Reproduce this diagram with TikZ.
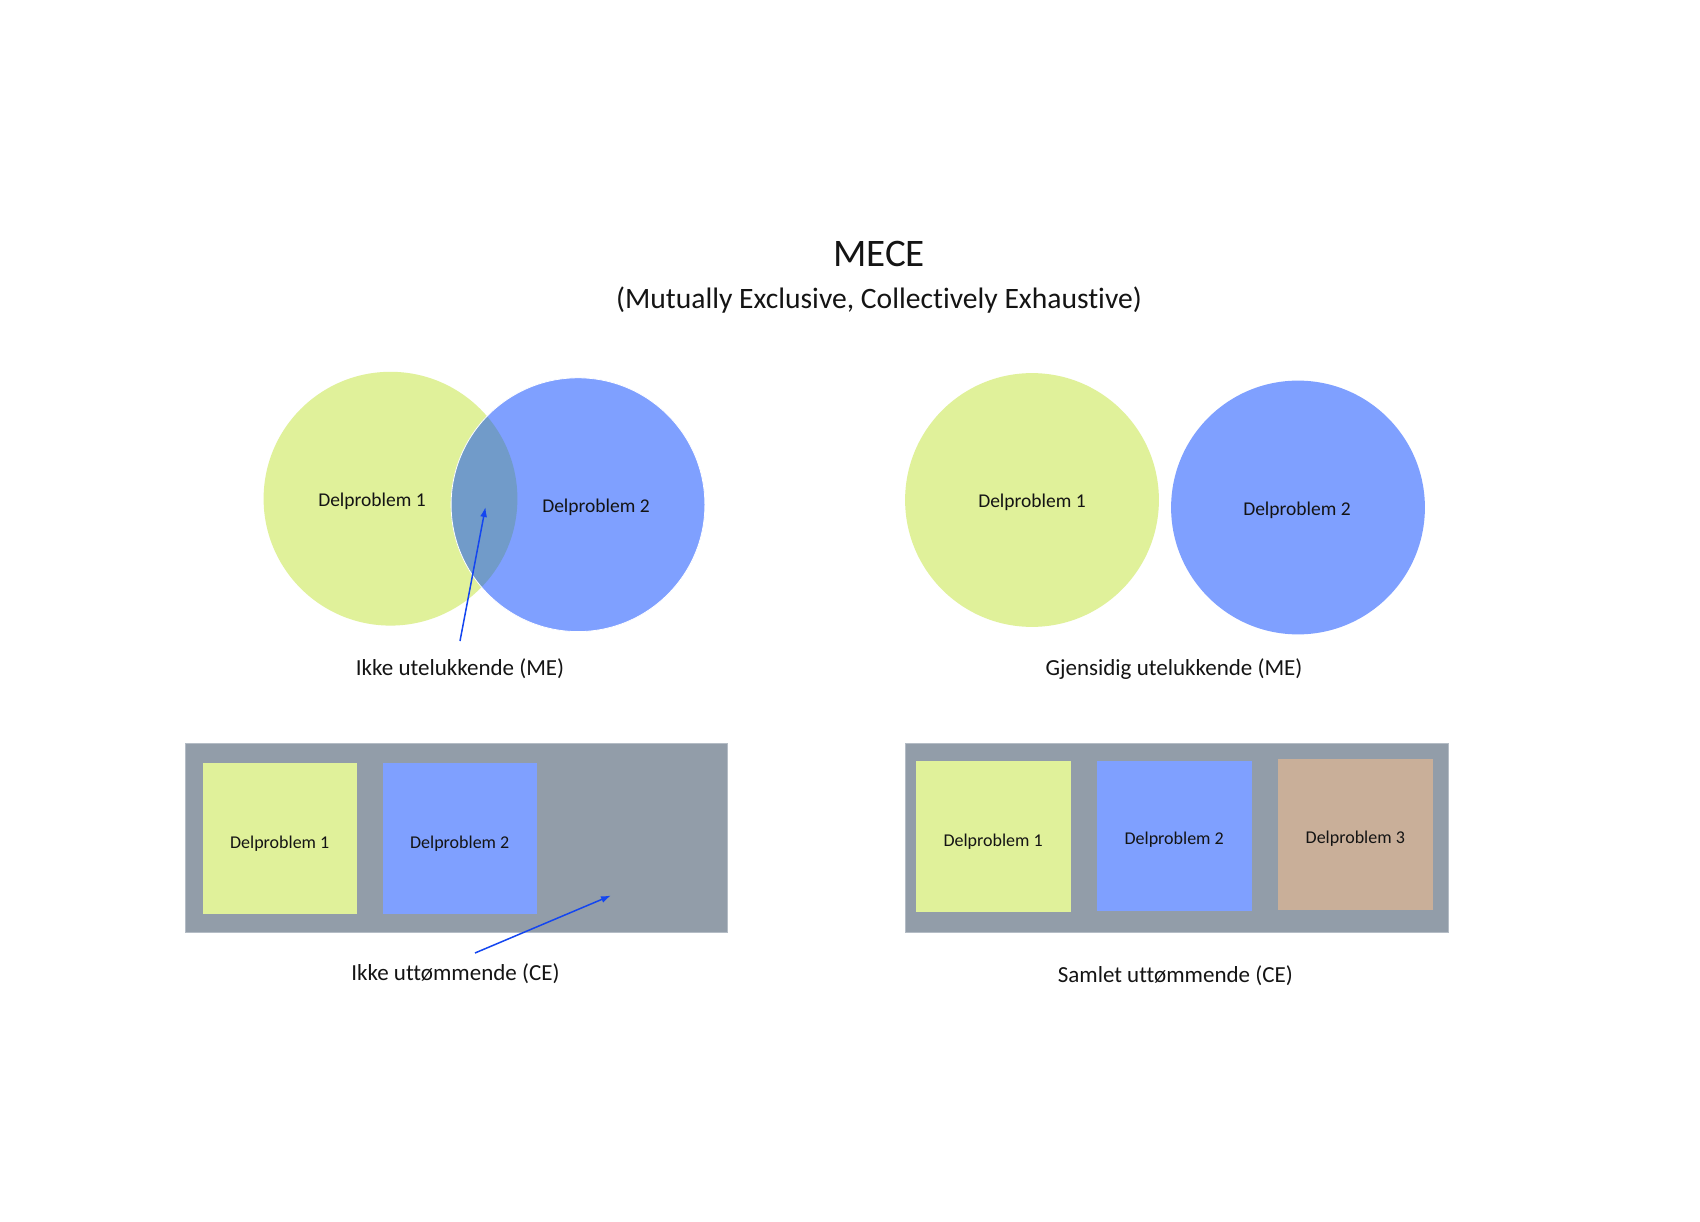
\documentclass[tikz,border=0pt]{standalone}
\usepackage{fontspec}
\setmainfont{Carlito}[Ligatures=CommonOff]
\usetikzlibrary{arrows.meta}
\definecolor{cgreen}{HTML}{E0F19A}
\definecolor{cblue}{HTML}{7FA0FF}
\definecolor{coverlap}{HTML}{719BC9}
\definecolor{cgray}{HTML}{929DA9}
\definecolor{cgrayedge}{HTML}{B4BCC5}
\definecolor{ctan}{HTML}{C9AF99}
\definecolor{ctext}{HTML}{141414}
\definecolor{carrow}{HTML}{1446F0}
\tikzset{
  venn/.style={circle, minimum size=253.8pt, inner sep=0pt, draw=none},
  boxtxt/.style={text=ctext, font=\fontsize{18}{20}\selectfont, yshift=-2pt},
  circtxt/.style={text=ctext, font=\fontsize{19.5}{22}\selectfont, yshift=-2pt},
  lbl/.style={text=ctext, font=\fontsize{23}{26}\selectfont, yshift=-2pt},
  tile/.style={draw=none, inner sep=0pt},
  pointer/.style={draw=carrow, line width=1.5pt, -{Latex[length=10pt,width=7pt]}},
}
\begin{document}
\begin{tikzpicture}[x=1pt,y=-1pt]
\useasboundingbox[fill=white] (0,0) rectangle (1700,1222);

% title
\node[text=ctext, font=\fontsize{39}{44}\selectfont] (title) at (879,254) {MECE};
\node[text=ctext, font=\fontsize{29.6}{34}\selectfont] (subtitle) at (879,300) {(Mutually Exclusive, Collectively Exhaustive)};

% left venn (overlapping)
\node[venn, fill=cgreen] (g1) at (390.5,498.7) {};
\node[venn, fill=cblue] (b1) at (578,504.7) {};
\begin{scope}
  \clip (390.5,498.7) circle (126.9);
  \fill[coverlap] (578,504.7) circle (126.9);
\end{scope}
\draw[white, line width=0.8pt] (578,504.7) circle (126.9);
\node[circtxt] (g1t) at (372,499) {Delproblem 1};
\node[circtxt] (b1t) at (596,505) {Delproblem 2};
\node[lbl] (lblA) at (460,667) {Ikke utelukkende (ME)};
\coordinate (arrA1) at (460,641);
\coordinate (arrA2) at (485.5,507);
\draw[pointer] (arrA1) -- (arrA2);

% right venn (separate)
\node[venn, fill=cgreen] (g2) at (1032,500) {};
\node[venn, fill=cblue] (b2) at (1298,507.5) {};
\node[circtxt] (g2t) at (1032,500) {Delproblem 1};
\node[circtxt] (b2t) at (1297,508) {Delproblem 2};
\node[lbl] (lblB) at (1174,667) {Gjensidig utelukkende (ME)};

% left boxes (not exhaustive)
\draw[fill=cgray, draw=cgrayedge, line width=0.8pt] (185.4,743.8) rectangle (727.5,932.4);
\node[tile, fill=cgreen, minimum width=154pt, minimum height=150.7pt] (lg) at (279.7,838.7) {};
\node[tile, fill=cblue, minimum width=154pt, minimum height=150.7pt] (lb) at (459.7,838.7) {};
\node[boxtxt] (lgt) at (279.7,841.3) {Delproblem 1};
\node[boxtxt] (lbt) at (459.7,841.3) {Delproblem 2};
\node[lbl] (lblC) at (455.4,971.5) {Ikke uttømmende (CE)};
\coordinate (arrC1) at (475,953);
\coordinate (arrC2) at (611,895.5);
\draw[pointer] (arrC1) -- (arrC2);

% right boxes (exhaustive)
\draw[fill=cgray, draw=cgrayedge, line width=0.8pt] (905.3,743.8) rectangle (1448.5,932.4);
\node[tile, fill=cgreen, minimum width=155pt, minimum height=150.7pt] (rg) at (993.6,836.4) {};
\node[tile, fill=cblue, minimum width=155pt, minimum height=149.6pt] (rb) at (1174.7,835.9) {};
\node[tile, fill=ctan, minimum width=155pt, minimum height=150.6pt] (rt) at (1355.8,834.3) {};
\node[boxtxt] (rgt) at (993.1,839.2) {Delproblem 1};
\node[boxtxt] (rbt) at (1174.2,838.1) {Delproblem 2};
\node[boxtxt] (rtt) at (1355.3,837) {Delproblem 3};
\node[lbl] (lblD) at (1175.3,973.6) {Samlet uttømmende (CE)};
\end{tikzpicture}
\end{document}
